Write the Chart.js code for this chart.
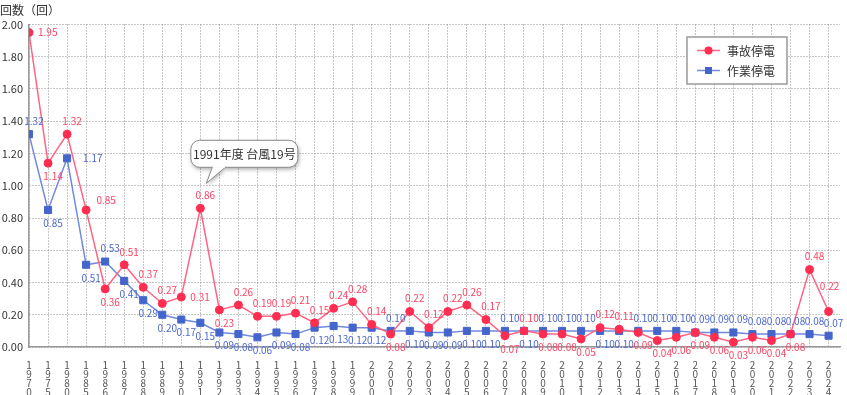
<!DOCTYPE html>
<html>
<head>
<meta charset="utf-8">
<script src="https://cdn.jsdelivr.net/npm/chart.js@4/dist/chart.umd.min.js"></script>
<style>
  html, body { margin: 0; padding: 0; background: #fff; }
  canvas { display: block; }
</style>
</head>
<body>
<canvas id="myChart" width="847" height="395"></canvas>
<script>
/*-------------------------
~~~~~~~~~~~Data~~~~~~~~~~~~
-------------------------*/
const years = [1970, 1975, 1980,
  1985, 1986, 1987, 1988, 1989, 1990, 1991, 1992, 1993, 1994,
  1995, 1996, 1997, 1998, 1999, 2000, 2001, 2002, 2003, 2004,
  2005, 2006, 2007, 2008, 2009, 2010, 2011, 2012, 2013, 2014,
  2015, 2016, 2017, 2018, 2019, 2020, 2021, 2022, 2023, 2024];

// 事故停電
const accidentOutage = [1.95, 1.14, 1.32,
  0.85, 0.36, 0.51, 0.37, 0.27, 0.31, 0.86, 0.23, 0.26, 0.19,
  0.19, 0.21, 0.15, 0.24, 0.28, 0.14, 0.08, 0.22, 0.12, 0.22,
  0.26, 0.17, 0.07, 0.10, 0.08, 0.08, 0.05, 0.12, 0.11, 0.09,
  0.04, 0.06, 0.09, 0.06, 0.03, 0.06, 0.04, 0.08, 0.48, 0.22];

// 作業停電
const workOutage = [1.32, 0.85, 1.17,
  0.51, 0.53, 0.41, 0.29, 0.20, 0.17, 0.15, 0.09, 0.08, 0.06,
  0.09, 0.08, 0.12, 0.13, 0.12, 0.12, 0.10, 0.10, 0.09, 0.09,
  0.10, 0.10, 0.10, 0.10, 0.10, 0.10, 0.10, 0.10, 0.10, 0.10,
  0.10, 0.10, 0.09, 0.09, 0.09, 0.08, 0.08, 0.08, 0.08, 0.07];

const seriesNames = ['事故停電', '作業停電'];
const axisTitle = '回数（回）';
const calloutText = '1991年度 台風19号';
const calloutYear = 1991;

// where each value label sits: t = above, b = below, r = right
const accidentLabelPos = ['r', 'b', 't',
  'tr', 'b', 't', 't', 't', 'r', 't', 'b', 't', 't',
  't', 't', 't', 't', 't', 't', 'b', 't', 't', 't',
  't', 't', 'b', 't', 'b', 'b', 'b', 't', 't', 'b',
  'b', 'b', 'b', 'b', 'b', 'b', 'b', 'b', 't', 'T'];
const workLabelPos = ['t', 'b', 'R',
  'b', 't', 'b', 'b', 'b', 'b', 'b', 'b', 'b', 'b',
  'b', 'b', 'b', 'b', 'b', 'b', 't', 'b', 'b', 'b',
  'b', 'b', 't', 'b', 't', 't', 't', 'b', 'b', 't',
  't', 't', 't', 't', 't', 't', 't', 't', 't', 't'];


/*-------------------------
~~~~~~~~~~~Styles~~~~~~~~~~
-------------------------*/
const FONT = '"Noto Sans CJK JP", "Noto Sans", sans-serif';
const RED = '#ff2d50';
const RED_LINE = '#ff6482';
const RED_TEXT = '#ff4463';
const BLUE = '#4466cc';
const BLUE_LINE = '#7189de';
const BLUE_TEXT = '#4d68cf';
const GRID = '#8c8c8c';
const AXIS = '#999999';


/*-------------------------
~~~~~~~~~~Plugins~~~~~~~~~~
-------------------------*/
const valueLabels = {
  id: 'valueLabels',
  afterDatasetsDraw(chart) {
    const ctx = chart.ctx;
    ctx.save();
    ctx.font = '10px ' + FONT;
    ctx.textBaseline = 'middle';
    chart.data.datasets.forEach((ds, di) => {
      const meta = chart.getDatasetMeta(di);
      ctx.fillStyle = ds.labelColor;
      meta.data.forEach((pt, i) => {
        const text = ds.data[i].y.toFixed(2);
        const pos = ds.labelPos[i];
        let x = pt.x + 5, y = pt.y;
        ctx.textAlign = 'center';
        if (pos === 't') y -= 13;
        else if (pos === 'T') { x = pt.x + 1; y -= 25; }
        else if (pos === 'b') y += 13;
        else if (pos === 'tr') { x = pt.x + 20; y -= 10; }
        else if (pos === 'r') { ctx.textAlign = 'left'; x = pt.x + 9; }
        else if (pos === 'R') { ctx.textAlign = 'left'; x = pt.x + 16; }
        ctx.fillText(text, x, y);
      });
    });
    ctx.restore();
  }
};

function roundRect(ctx, x, y, w, h, r) {
  ctx.moveTo(x + r, y);
  ctx.lineTo(x + w - r, y);
  ctx.arcTo(x + w, y, x + w, y + r, r);
  ctx.lineTo(x + w, y + h - r);
  ctx.arcTo(x + w, y + h, x + w - r, y + h, r);
  ctx.lineTo(x + r, y + h);
  ctx.arcTo(x, y + h, x, y + h - r, r);
  ctx.lineTo(x, y + r);
  ctx.arcTo(x, y, x + r, y, r);
}

const extras = {
  id: 'extras',
  afterDraw(chart) {
    const ctx = chart.ctx;
    const area = chart.chartArea;
    ctx.save();

    // axis title
    ctx.fillStyle = '#333';
    ctx.font = '12px ' + FONT;
    ctx.textAlign = 'left';
    ctx.textBaseline = 'middle';
    ctx.fillText(axisTitle, 0, 10);

    // callout for the typhoon year
    const idx = years.indexOf(calloutYear);
    const p = chart.getDatasetMeta(0).data[idx];
    const bx = p.x - 9.5, by = p.y - 68, bw = 107, bh = 27;
    ctx.beginPath();
    ctx.moveTo(p.x + 12, by + bh - 1);
    ctx.lineTo(p.x + 6, p.y - 25);
    ctx.lineTo(p.x + 25, by + bh - 1);
    roundRect(ctx, bx, by, bw, bh, 9);
    ctx.shadowColor = 'rgba(0,0,0,0.35)';
    ctx.shadowBlur = 4;
    ctx.shadowOffsetX = 1;
    ctx.shadowOffsetY = 2;
    ctx.fillStyle = '#fff';
    ctx.fill();
    ctx.shadowColor = 'transparent';
    ctx.beginPath();
    roundRect(ctx, bx, by, bw, bh, 9);
    ctx.strokeStyle = '#8a8a8a';
    ctx.lineWidth = 1;
    ctx.stroke();
    // pointer
    ctx.beginPath();
    ctx.moveTo(p.x + 12, by + bh);
    ctx.lineTo(p.x + 6, p.y - 25);
    ctx.lineTo(p.x + 25, by + bh);
    ctx.fill();
    ctx.stroke();
    ctx.fillStyle = '#fff';
    ctx.fillRect(p.x + 12.5, by + bh - 2, 12, 2.5);
    ctx.fillStyle = '#333';
    ctx.font = '12px ' + FONT;
    ctx.textAlign = 'center';
    ctx.fillText(calloutText, bx + bw / 2, by + bh / 2 + 0.5);

    // legend box
    const lx = area.right - 153, ly = area.top + 12.5, lw = 100, lh = 47;
    ctx.fillStyle = '#fff';
    ctx.fillRect(lx, ly, lw, lh);
    ctx.strokeStyle = '#999';
    ctx.lineWidth = 1.5;
    ctx.strokeRect(lx, ly, lw, lh);
    const items = [
      {name: seriesNames[0], line: RED_LINE, color: RED, shape: 'circle'},
      {name: seriesNames[1], line: BLUE_LINE, color: BLUE, shape: 'rect'}
    ];
    items.forEach((it, k) => {
      const yy = ly + 13.5 + k * 20;
      ctx.strokeStyle = it.line;
      ctx.lineWidth = 1.5;
      ctx.beginPath();
      ctx.moveTo(lx + 10, yy);
      ctx.lineTo(lx + 33, yy);
      ctx.stroke();
      ctx.fillStyle = it.color;
      if (it.shape === 'circle') {
        ctx.beginPath();
        ctx.arc(lx + 21.5, yy, 4, 0, Math.PI * 2);
        ctx.fill();
      } else {
        ctx.fillRect(lx + 18, yy - 3.5, 7, 7);
      }
      ctx.fillStyle = '#333';
      ctx.font = '12px ' + FONT;
      ctx.textAlign = 'left';
      ctx.fillText(it.name, lx + 40, yy + 1);
    });
    ctx.restore();
  }
};


/*-------------------------
~~~~~~~~~~~Chart~~~~~~~~~~~
-------------------------*/
const ctx = document.getElementById('myChart').getContext('2d');

const myChart = new Chart(ctx, {
  type: 'line',
  data: {
    datasets: [
      {
        label: seriesNames[0],
        data: accidentOutage.map((v, i) => ({x: i, y: v})),
        borderColor: RED_LINE,
        borderWidth: 1.5,
        backgroundColor: RED,
        pointStyle: 'circle',
        pointRadius: 4,
        pointBorderWidth: 1,
        pointBackgroundColor: RED,
        pointBorderColor: RED,
        labelColor: RED_TEXT,
        labelPos: accidentLabelPos,
        tension: 0
      },
      {
        label: seriesNames[1],
        data: workOutage.map((v, i) => ({x: i, y: v})),
        borderColor: BLUE_LINE,
        borderWidth: 1.5,
        backgroundColor: BLUE,
        pointStyle: 'rect',
        pointRadius: 5,
        pointBorderWidth: 1,
        pointBackgroundColor: BLUE,
        pointBorderColor: BLUE,
        labelColor: BLUE_TEXT,
        labelPos: workLabelPos,
        tension: 0
      }
    ]
  },
  options: {
    responsive: false,
    animation: false,
    devicePixelRatio: 1,
    layout: {padding: {top: 24.5, right: 7, left: 0, bottom: 0}},
    plugins: {
      legend: {display: false},
      tooltip: {enabled: false},
      title: {display: false}
    },
    scales: {
      x: {
        type: 'linear',
        min: 0,
        max: 42.6,
        afterBuildTicks: scale => {
          scale.ticks = years.map((_, i) => ({value: i}));
        },
        afterFit: scale => { scale.height = 48; },
        grid: {color: GRID, lineWidth: 1, drawTicks: false},
        border: {color: AXIS, width: 1.5, dash: [1, 2]},
        ticks: {
          autoSkip: false,
          maxRotation: 0,
          minRotation: 0,
          padding: 14,
          color: '#555',
          font: {family: FONT, size: 10, lineHeight: 0.9},
          callback: value => String(years[value]).split('')
        }
      },
      y: {
        min: 0,
        max: 2,
        afterFit: scale => { scale.width = 29; },
        grid: {color: GRID, lineWidth: 1, drawTicks: false},
        border: {color: AXIS, width: 1.5, dash: [1, 2]},
        ticks: {
          stepSize: 0.2,
          maxTicksLimit: 20,
          padding: 6,
          color: '#333',
          font: {family: FONT, size: 11},
          callback: value => value.toFixed(2)
        }
      }
    }
  },
  plugins: [valueLabels, extras]
});
</script>
</body>
</html>
